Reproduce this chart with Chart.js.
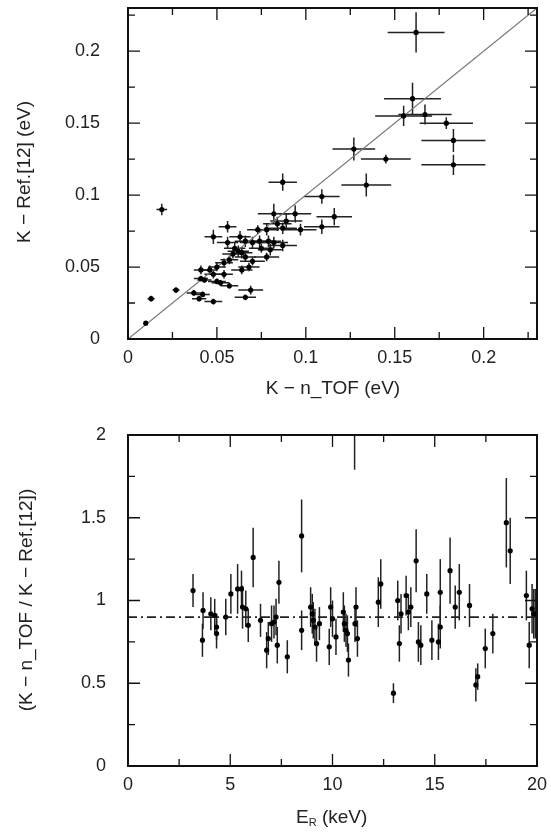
<!DOCTYPE html>
<html><head><meta charset="utf-8">
<script src="https://cdn.jsdelivr.net/npm/chart.js@4.4.1/dist/chart.umd.min.js"></script>
<style>html,body{margin:0;padding:0;background:#fff}#a,#b{display:block}</style>
</head><body>
<div style="width:551px;height:415px;position:relative"><canvas id="a"></canvas></div>
<div style="width:551px;height:418px;position:relative"><canvas id="b"></canvas></div>
<script>
// Top panel data: K - n_TOF (x) vs K - Ref.[12] (y)
const topX   =[0.162,0.160,0.155,0.167,0.179,0.183,0.183,0.127,0.145,0.134,0.087,0.109,0.019,0.082,0.089,0.094,0.084,0.087,0.116,0.109,0.097,0.056,0.048,0.073,0.078,0.056,0.063,0.066,0.070,0.074,0.079,0.082,0.087,0.075,0.080,0.078,0.060,0.062,0.064,0.059,0.066,0.057,0.054,0.070,0.068,0.064,0.050,0.046,0.041,0.048,0.054,0.041,0.043,0.050,0.052,0.057,0.037,0.042,0.040,0.048,0.069,0.066,0.027,0.013,0.010];
const topY   =[0.213,0.167,0.155,0.156,0.150,0.138,0.121,0.132,0.125,0.107,0.109,0.099,0.090,0.087,0.082,0.087,0.080,0.077,0.085,0.078,0.076,0.078,0.071,0.076,0.076,0.067,0.071,0.068,0.067,0.068,0.068,0.067,0.065,0.063,0.062,0.057,0.063,0.061,0.060,0.059,0.057,0.055,0.053,0.054,0.050,0.048,0.050,0.048,0.048,0.045,0.045,0.042,0.041,0.040,0.039,0.037,0.032,0.031,0.028,0.026,0.034,0.029,0.034,0.028,0.011];
const topXErr=[0.016,0.016,0.016,0.015,0.015,0.018,0.018,0.012,0.014,0.014,0.008,0.010,0.003,0.009,0.009,0.009,0.008,0.008,0.010,0.010,0.009,0.005,0.005,0.006,0.007,0.006,0.006,0.006,0.007,0.007,0.007,0.008,0.008,0.007,0.007,0.007,0.006,0.006,0.006,0.006,0.006,0.005,0.005,0.007,0.006,0.006,0.005,0.004,0.004,0.005,0.005,0.004,0.004,0.005,0.005,0.005,0.004,0.004,0.004,0.005,0.007,0.006,0.002,0.002,0.001];
const topYErr=[0.014,0.011,0.007,0.007,0.004,0.008,0.007,0.008,0.003,0.008,0.006,0.005,0.004,0.007,0.005,0.006,0.005,0.004,0.006,0.005,0.004,0.004,0.005,0.003,0.004,0.004,0.004,0.004,0.004,0.004,0.004,0.004,0.004,0.003,0.004,0.003,0.004,0.004,0.004,0.003,0.003,0.003,0.003,0.003,0.003,0.003,0.003,0.003,0.003,0.003,0.003,0.002,0.002,0.002,0.002,0.002,0.002,0.002,0.002,0.002,0.003,0.002,0.002,0.002,0.001];
const diagX=[0,0.23];
const topTicks=[0,0.05,0.1,0.15,0.2];
// Bottom panel data: E_R (keV) vs ratio
const botX   =[3.18,3.64,3.67,4.05,4.24,4.33,4.33,4.78,5.03,5.36,5.55,5.60,5.76,5.88,6.12,6.48,6.78,6.86,7.02,7.14,7.24,7.30,7.38,7.79,8.49,8.49,8.93,9.01,9.06,9.14,9.22,9.36,9.84,9.91,10.0,10.17,10.53,10.58,10.66,10.73,10.78,11.10,11.15,11.22,11.08,12.24,12.36,12.98,13.19,13.27,13.35,13.60,13.71,13.83,14.09,14.20,14.32,14.61,14.86,15.18,15.27,15.27,15.75,16.0,16.2,16.7,17.01,17.10,17.47,17.84,18.5,18.69,19.48,19.62,19.76,19.84,19.92];
const botY   =[1.06,0.76,0.94,0.92,0.91,0.84,0.80,0.90,1.04,1.07,1.07,0.96,0.95,0.85,1.26,0.88,0.70,0.77,0.86,0.87,0.90,0.73,1.11,0.66,1.39,0.82,0.96,0.92,0.88,0.84,0.74,0.86,0.72,0.96,0.89,0.78,0.93,0.86,0.82,0.80,0.64,0.86,0.96,0.77,2.10,0.99,1.10,0.44,1.00,0.74,0.92,1.03,0.93,0.96,1.24,0.75,0.73,1.04,0.76,0.75,1.05,0.84,1.18,0.96,1.05,0.97,0.49,0.54,0.71,0.80,1.47,1.30,1.03,0.73,0.95,0.92,0.92];
const botYErr=[0.10,0.10,0.11,0.10,0.10,0.08,0.09,0.11,0.12,0.15,0.11,0.13,0.11,0.10,0.18,0.10,0.11,0.10,0.11,0.10,0.11,0.11,0.13,0.10,0.22,0.12,0.12,0.12,0.11,0.11,0.11,0.10,0.11,0.12,0.11,0.11,0.12,0.11,0.10,0.11,0.10,0.11,0.12,0.11,0.31,0.15,0.15,0.06,0.12,0.11,0.12,0.12,0.11,0.12,0.19,0.12,0.12,0.12,0.12,0.11,0.20,0.13,0.20,0.13,0.17,0.13,0.10,0.08,0.12,0.12,0.27,0.20,0.15,0.14,0.15,0.15,0.15];
const refLineY=0.9;
const botXTicks=[0,5,10,15,20];
const botYTicks=[0,0.5,1,1.5,2];

const FONT='"Liberation Sans", Arial, sans-serif';
function frameTicks(ch,xs,ys,xt,yt,xoff,yoff){
  const c=ch.ctx,a=ch.chartArea,X=ch.scales.x,Y=ch.scales.y;
  c.save();c.strokeStyle='#111';c.lineWidth=2;
  c.strokeRect(a.left,a.top,a.right-a.left,a.bottom-a.top);
  c.lineWidth=1.3;
  for(let v=xs[0];v<=xs[1]+1e-9;v+=xs[2]/2){const p=X.getPixelForValue(v);const maj=Math.abs(v/xs[2]-Math.round(v/xs[2]))<1e-6;const L=maj?12:7;
    c.beginPath();c.moveTo(p,a.bottom);c.lineTo(p,a.bottom-L);c.moveTo(p,a.top);c.lineTo(p,a.top+L);c.stroke();}
  for(let v=ys[0];v<=ys[1]+1e-9;v+=ys[2]/2){const p=Y.getPixelForValue(v);const maj=Math.abs(v/ys[2]-Math.round(v/ys[2]))<1e-6;const L=maj?12:7;
    c.beginPath();c.moveTo(a.left,p);c.lineTo(a.left+L,p);c.moveTo(a.right,p);c.lineTo(a.right-L,p);c.stroke();}
  c.fillStyle='#222';c.font='18px '+FONT;c.textBaseline='middle';
  c.textAlign='center';xt.forEach(v=>c.fillText(String(v),X.getPixelForValue(v),a.bottom+xoff));
  c.textAlign='right';yt.forEach(v=>c.fillText(String(v),a.left-yoff,Y.getPixelForValue(v)));
  c.restore();
}
function errPlugin(xe,ye){return{id:'err',beforeDatasetsDraw(ch){
  const c=ch.ctx,X=ch.scales.x,Y=ch.scales.y,a=ch.chartArea,d=ch.data.datasets[0].data;
  c.save();c.beginPath();c.rect(a.left,a.top,a.right-a.left,a.bottom-a.top);c.clip();
  c.strokeStyle='#222';c.lineWidth=1.5;
  d.forEach((p,i)=>{const px=X.getPixelForValue(p.x),py=Y.getPixelForValue(p.y);c.beginPath();
    if(xe){c.moveTo(X.getPixelForValue(p.x-xe[i]),py);c.lineTo(X.getPixelForValue(p.x+xe[i]),py);}
    c.moveTo(px,Y.getPixelForValue(p.y-ye[i]));c.lineTo(px,Y.getPixelForValue(p.y+ye[i]));c.stroke();});
  c.restore();}}}
function mkScales(xmin,xmax,ymin,ymax,yw,xh){return{
  x:{type:'linear',min:xmin,max:xmax,grid:{display:false,drawTicks:false},border:{display:false},
     ticks:{display:false},afterFit(s){s.height=xh;}},
  y:{type:'linear',min:ymin,max:ymax,grid:{display:false,drawTicks:false},border:{display:false},
     ticks:{display:false},afterFit(s){s.width=yw;}}}}

new Chart(document.getElementById('a'),{type:'scatter',
 data:{datasets:[{data:topX.map((x,i)=>({x,y:topY[i]})),pointRadius:2.6,backgroundColor:'#000',borderWidth:0},
   {type:'line',data:diagX.map(x=>({x,y:x})),borderColor:'#777',borderWidth:1.2,pointRadius:0}]},
 options:{responsive:true,maintainAspectRatio:false,animation:false,
  layout:{padding:{top:8,right:14,left:0,bottom:0}},
  plugins:{legend:{display:false},tooltip:{enabled:false}},
  scales:mkScales(0,0.23,0,0.23,128,76)},
 plugins:[errPlugin(topXErr,topYErr),{id:'f',afterDraw(ch){frameTicks(ch,[0,0.23,0.05],[0,0.23,0.05],topTicks,topTicks,19,28);
   const c=ch.ctx;c.save();c.fillStyle='#222';c.font='19px '+FONT;c.textAlign='center';c.textBaseline='middle';
   c.fillText('K \u2212 n_TOF (eV)',333,389);
   c.translate(25,172);c.rotate(-Math.PI/2);c.fillText('K \u2212 Ref.[12] (eV)',0,0);c.restore();}}]
});

new Chart(document.getElementById('b'),{type:'scatter',
 data:{datasets:[{data:botX.map((x,i)=>({x,y:botY[i]})),pointRadius:2.6,backgroundColor:'#000',borderWidth:0,clip:0},
   {type:'line',data:[{x:0,y:refLineY},{x:20,y:refLineY}],borderColor:'#222',borderWidth:1.8,borderDash:[9,4,2,4],pointRadius:0}]},
 options:{responsive:true,maintainAspectRatio:false,animation:false,
  layout:{padding:{top:20,right:14,left:0,bottom:0}},
  plugins:{legend:{display:false},tooltip:{enabled:false}},
  scales:mkScales(0,20,0,2,128,67)},
 plugins:[errPlugin(null,botYErr),{id:'f',afterDraw(ch){frameTicks(ch,[0,20,5],[0,2,0.5],botXTicks,botYTicks,19,22);
   const c=ch.ctx;c.save();c.fillStyle='#222';c.font='19px '+FONT;c.textBaseline='middle';
   c.textAlign='left';const x0=296;c.fillText('E',x0,403);const w=c.measureText('E').width;
   c.font='11px '+FONT;c.fillText('R',x0+w,408);const w2=c.measureText('R').width;
   c.font='19px '+FONT;c.fillText(' (keV)',x0+w+w2,403);
   c.textAlign='center';c.translate(27,185);c.rotate(-Math.PI/2);c.fillText('(K \u2212 n_TOF / K \u2212 Ref.[12])',0,0);c.restore();}}]
});
</script>
</body></html>
